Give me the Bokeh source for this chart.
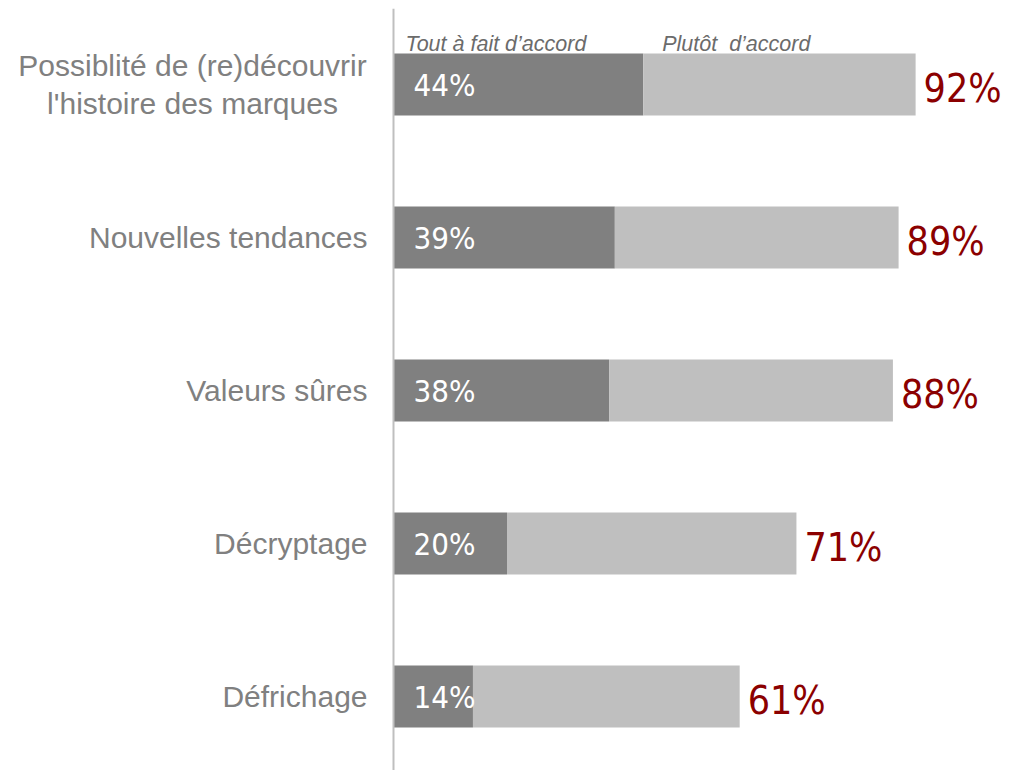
from bokeh.plotting import figure
from bokeh.models import Range1d, ColumnDataSource
from bokeh.core.properties import value
from bokeh.embed import file_html
from bokeh.resources import INLINE

# ---- data ----
categories = [
    "Possiblité de (re)découvrir\nl'histoire des marques",
    "Nouvelles tendances",
    "Valeurs sûres",
    "Décryptage",
    "Défrichage",
]
tout_a_fait = [44, 39, 38, 20, 14]
total_accord = [92, 89, 88, 71, 61]
series_names = ["Tout à fait d\u2019accord", "Plutôt\u00a0\u00a0d\u2019accord"]

ypos = list(range(len(categories)))

src = ColumnDataSource(dict(
    y=ypos,
    cat=categories,
    dark=tout_a_fait,
    total=total_accord,
    zero=[0] * len(categories),
    dark_lbl=[f"{v}%" for v in tout_a_fait],
    total_lbl=[f"{v}%" for v in total_accord],
    cat_align=["center" if "\n" in c else "right" for c in categories],
    cat_off=[-201 if "\n" in c else -26 for c in categories],
))

p = figure(width=1010, height=770, output_backend="svg", toolbar_location=None,
           x_range=Range1d(-69.25, 108.72), y_range=Range1d(4.484, -0.549),
           min_border=0, outline_line_color=None, background_fill_color="white")
p.xaxis.visible = False
p.yaxis.visible = False
p.grid.visible = False

bar_h = 0.405
p.hbar(y="y", left="zero", right="dark", height=bar_h, source=src,
       fill_color="#808080", line_color=None)
p.hbar(y="y", left="dark", right="total", height=bar_h, source=src,
       fill_color="#bfbfbf", line_color=None)

# vertical axis line
p.segment(x0=[0], y0=[-0.495], x1=[0], y1=[4.6], line_color="#bfbfbf", line_width=2)

cond = value("'DejaVu Sans Condensed', 'DejaVu Sans', sans-serif")

# category labels
p.text(x="zero", y="y", text="cat", source=src, text_align="cat_align",
       x_offset="cat_off", text_baseline="middle",
       text_font=value("Liberation Sans"), text_font_size="30px",
       text_color="#808080", text_line_height=1.15)

# inner labels
p.text(x="zero", y="y", text="dark_lbl", source=src, x_offset=20, y_offset=1,
       text_align="left", text_baseline="middle",
       text_font=cond, text_font_size="31px", text_color="white")

# totals
p.text(x="total", y="y", text="total_lbl", source=src, x_offset=8, y_offset=4,
       text_align="left", text_baseline="middle",
       text_font=cond, text_font_size="39px", text_color="#8b0000")

# series headers above first bar
p.text(x=[0, tout_a_fait[0]], y=[ypos[0] - bar_h / 2] * 2, text=series_names,
       x_offset=[12, 19], y_offset=-10, text_align="left", text_baseline="alphabetic",
       text_font=value("Liberation Sans"), text_font_style="italic",
       text_font_size="21.5px", text_color="#6b6b6b")

open("out.html", "w").write(file_html(p, INLINE))
